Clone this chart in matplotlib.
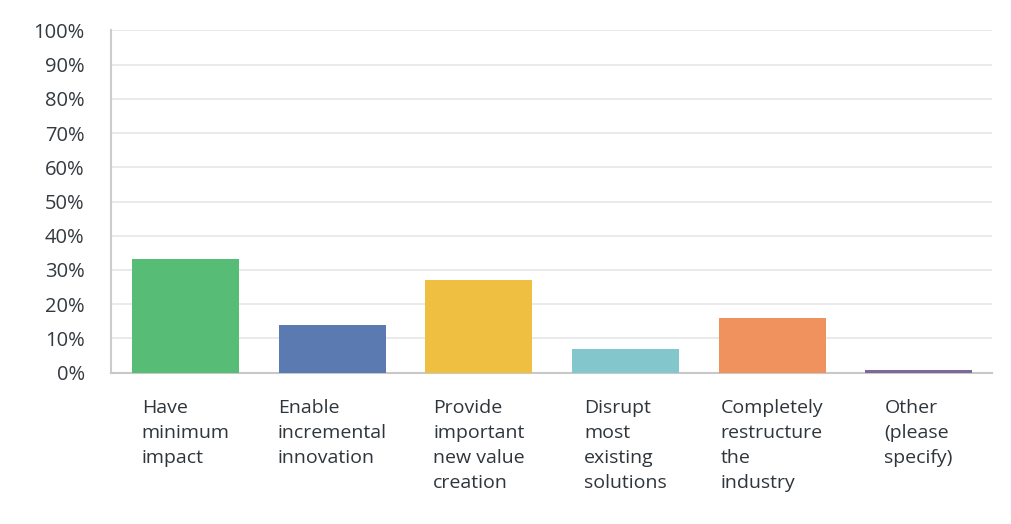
import matplotlib
matplotlib.use('Agg')
import matplotlib.pyplot as plt
from matplotlib.ticker import FuncFormatter

categories = ['Have\nminimum\nimpact', 'Enable\nincremental\ninnovation',
              'Provide\nimportant\nnew value\ncreation', 'Disrupt\nmost\nexisting\nsolutions',
              'Completely\nrestructure\nthe\nindustry', 'Other\n(please\nspecify)']
values = [33.2, 13.8, 27.0, 6.9, 15.9, 0.7]
colors = ['#57bc76', '#5a7ab1', '#efbf42', '#83c6cb', '#ef925e', '#7d6899']

plt.rcParams['font.family'] = ['Open Sans', 'DejaVu Sans']

fig = plt.figure(figsize=(10.12, 5.24), dpi=100)
ax = fig.add_axes([0.1097, 0.2891, 0.8705, 0.6527])

x = range(len(values))
ax.bar(x, values, width=0.73, color=colors, zorder=3)

ax.set_xlim(-0.51, 5.5)
ax.set_ylim(0, 100)
ax.set_yticks(range(0, 101, 10))
ax.yaxis.set_major_formatter(FuncFormatter(lambda v, p: f'{int(v)}%'))
ax.grid(axis='y', color='#e6e6e6', linewidth=1.2, zorder=0)
ax.tick_params(axis='y', length=0, pad=19, labelsize=14.5, labelcolor='#333a40')
ax.tick_params(axis='x', length=0)
ax.set_xticks([])

# category labels: block centred under the bar, lines left aligned
for i, lab in enumerate(categories):
    ax.text(i, -7.8, lab, ha='center', va='top', multialignment='left',
            fontsize=14, color='#2e353b', linespacing=1.5)

for s in ['top', 'right']:
    ax.spines[s].set_visible(False)
ax.spines['left'].set_color('#cccccc')
ax.spines['left'].set_linewidth(1.5)
ax.spines['bottom'].set_color('#c8c8c8')
ax.spines['bottom'].set_linewidth(1.5)

fig.savefig('out.png', dpi=100)
